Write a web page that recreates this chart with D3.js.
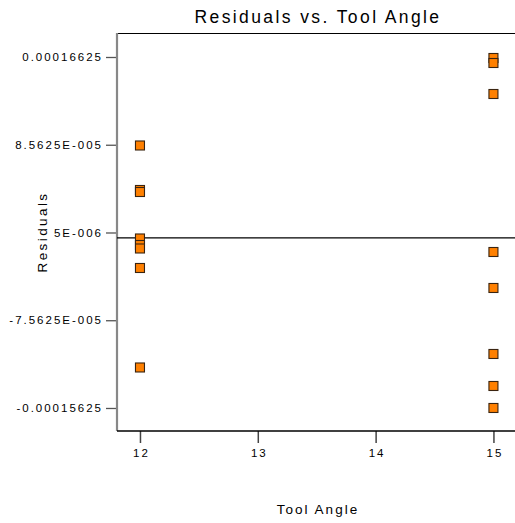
<!DOCTYPE html>
<html lang="en">
<head>
<meta http-equiv="content-type" content="text/html; charset=UTF-8">
<script src="https://d3js.org/d3.v7.min.js"></script>
<style>
  body { margin: 0; background: #fff; }
  text { font-family: "Liberation Sans", Arial, sans-serif; fill: #000; }
</style>
</head>
<body>
<div id="plot"></div>
<script>
  // tool angle groups and residuals
  const angle12 = [8.494e-5, 4.405e-5, 4.221e-5, -5.1e-7, -6.49e-6, -9.70e-6, -2.762e-5, -1.1904e-4];
  const angle15 = [1.6533e-4, 1.6074e-4, 1.3225e-4, -1.292e-5, -4.599e-5, -1.0663e-4, -1.3604e-4, -1.5625e-4];
  const xTicks = [12, 13, 14, 15];
  const yTicks = [1.6625e-4, 8.5625e-5, 5e-6, -7.5625e-5, -1.5625e-4];
  const yTickLabels = ["0.00016625", "8.5625E-005", "5E-006", "-7.5625E-005", "-0.00015625"];

  const data = [
    ...angle12.map(r => ({angle: 12, resid: r})),
    ...angle15.map(r => ({angle: 15, resid: r}))
  ];

  const width = 515, height = 523;
  const margin = {top: 33, right: 0, bottom: 92, left: 117};
  const visWidth = width - margin.left - margin.right;
  const visHeight = height - margin.top - margin.bottom;

  const x = d3.scaleLinear()
      .domain([11.805, 15.183])
      .range([0, visWidth]);

  const y = d3.scaleLinear()
      .domain([-1.774e-4, 1.883e-4])
      .range([visHeight, 0]);

  const svg = d3.select('#plot').append('svg')
      .attr('width', width)
      .attr('height', height);

  const g = svg.append('g')
      .attr('transform', `translate(${margin.left}, ${margin.top})`);

  // title
  svg.append('text')
      .attr('x', 318)
      .attr('y', 23)
      .attr('text-anchor', 'middle')
      .attr('font-size', 17.5)
      .attr('letter-spacing', 2.4)
      .text('Residuals vs. Tool Angle');

  // top frame line
  g.append('line')
      .attr('x1', 0).attr('x2', visWidth)
      .attr('y1', 0.5).attr('y2', 0.5)
      .attr('stroke', '#000');

  // y axis
  const yAxis = g.append('g')
      .call(d3.axisLeft(y).tickValues(yTicks).tickSize(11).tickPadding(5)
        .tickFormat((d, i) => yTickLabels[i]));
  yAxis.select('.domain').remove();
  yAxis.selectAll('.tick line').attr('stroke', '#555').attr('stroke-width', 1.3);
  yAxis.selectAll('.tick text')
      .attr('font-size', 11.5)
      .attr('letter-spacing', 2)
      .attr('dx', 2)
      .style('font-family', '"Liberation Sans", Arial, sans-serif');
  g.append('line')
      .attr('x1', 0).attr('x2', 0)
      .attr('y1', 0).attr('y2', visHeight)
      .attr('stroke', '#888')
      .attr('stroke-width', 2.2);

  // x axis
  const xAxis = g.append('g')
      .attr('transform', `translate(0, ${visHeight})`)
      .call(d3.axisBottom(x).tickValues(xTicks).tickSize(12).tickPadding(6)
        .tickFormat(d3.format('d')));
  xAxis.select('.domain').remove();
  xAxis.selectAll('.tick line').attr('stroke', '#444').attr('stroke-width', 1.5);
  xAxis.selectAll('.tick text')
      .attr('font-size', 11.5)
      .attr('letter-spacing', 2)
      .attr('dx', 1)
      .style('font-family', '"Liberation Sans", Arial, sans-serif');
  g.append('line')
      .attr('x1', 0).attr('x2', visWidth)
      .attr('y1', visHeight).attr('y2', visHeight)
      .attr('stroke', '#000')
      .attr('stroke-width', 1.6);

  // zero line
  g.append('line')
      .attr('x1', 0).attr('x2', visWidth)
      .attr('y1', y(0)).attr('y2', y(0))
      .attr('stroke', '#000')
      .attr('stroke-width', 1.2);

  // axis labels
  svg.append('text')
      .attr('x', 318)
      .attr('y', 514)
      .attr('text-anchor', 'middle')
      .attr('font-size', 13.5)
      .attr('letter-spacing', 2)
      .text('Tool Angle');

  svg.append('text')
      .attr('transform', 'translate(47, 232) rotate(-90)')
      .attr('text-anchor', 'middle')
      .attr('font-size', 13.5)
      .attr('letter-spacing', 2.4)
      .text('Residuals');

  // points
  const side = 9;
  g.selectAll('rect.pt')
    .data(data)
    .join('rect')
      .attr('class', 'pt')
      .attr('x', d => x(d.angle) - side / 2)
      .attr('y', d => y(d.resid) - side / 2)
      .attr('width', side)
      .attr('height', side)
      .attr('fill', '#ff8000')
      .attr('stroke', '#3a2410')
      .attr('stroke-width', 1.1);
</script>
</body>
</html>
